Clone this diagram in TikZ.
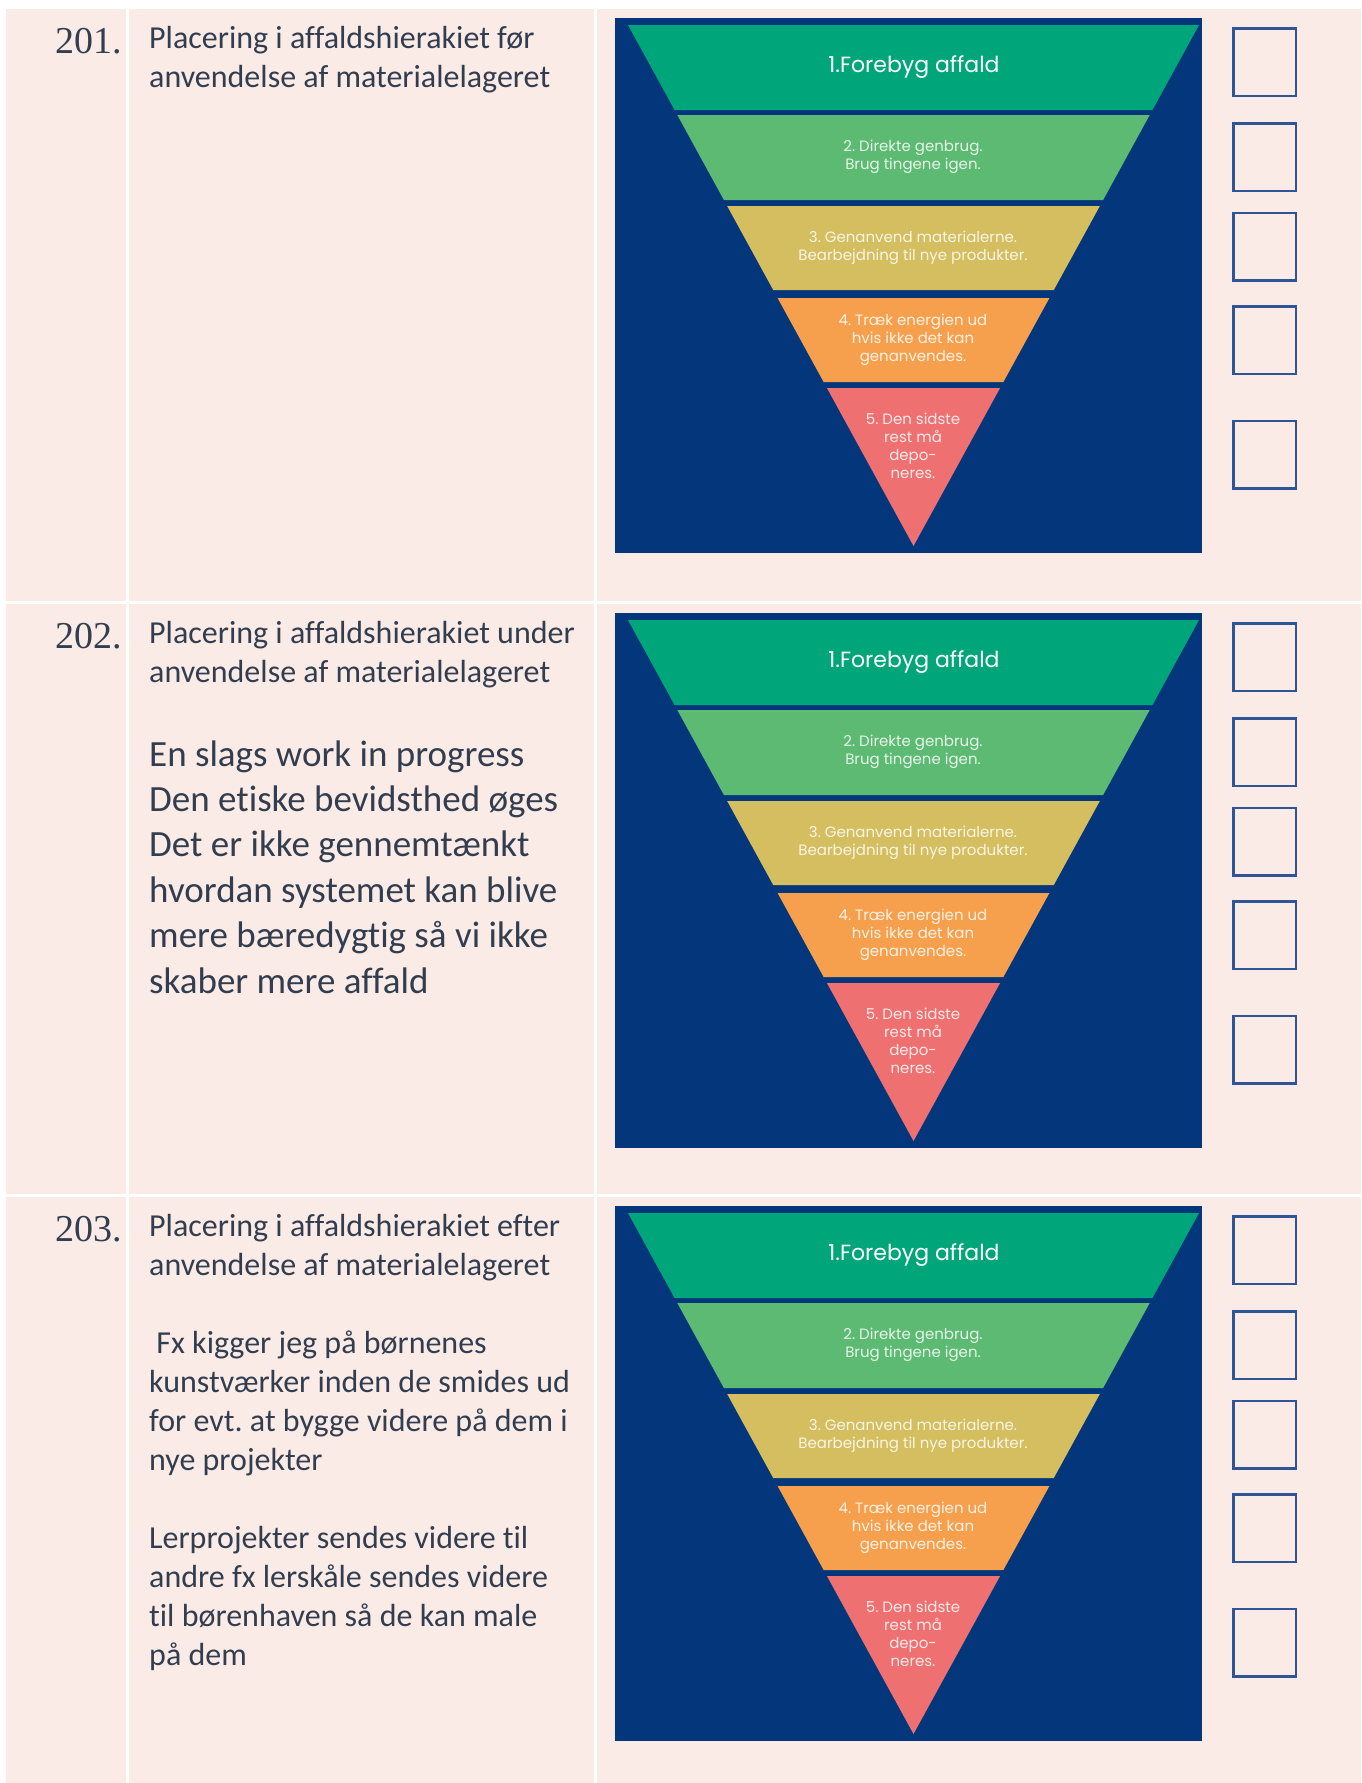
\documentclass[tikz,border=0pt]{standalone}
\usepackage{fontspec}
\setmainfont[Ligatures=NoCommon]{Carlito}
\newfontfamily\numfont{Liberation Serif}
\newfontfamily\pyrfont{Poppins}
\usepackage{xcolor}
\definecolor{cellpink}{RGB}{251,235,231}
\definecolor{bodytext}{RGB}{50,62,79}
\definecolor{navy}{RGB}{3,54,122}
\definecolor{lvlone}{RGB}{0,166,122}
\definecolor{lvltwo}{RGB}{92,186,114}
\definecolor{lvlthree}{RGB}{212,190,95}
\definecolor{lvlfour}{RGB}{246,160,77}
\definecolor{lvlfive}{RGB}{238,112,112}
\definecolor{boxblue}{RGB}{47,85,151}
\frenchspacing
% one waste hierarchy picture plus its five tick boxes; #1 = row tag, #2 = top of picture
\newcommand{\wastepyramid}[2]{%
\fill[navy] (615,#2) rectangle (1202,#2+535);
\foreach \tp/\bt/\col in {7/92/lvlone,97/182/lvltwo,188/272/lvlthree,280/364/lvlfour,370/528/lvlfive}
  \fill[\col] ({913.5-0.548*(528-\tp)},{#2+\tp}) -- ({913.5+0.548*(528-\tp)},{#2+\tp})
    -- ({913.5+0.548*(528-\bt)},{#2+\bt}) -- ({913.5-0.548*(528-\bt)},{#2+\bt}) -- cycle;
\node[lvltext,text opacity=1,font=\pyrfont\fontsize{22}{26}\selectfont] (forebyg#1) at (914,#2+49) {1.Forebyg affald};
\node[lvltext] (genbrug#1) at (913,#2+139) {2. Direkte genbrug.\\Brug tingene igen.};
\node[lvltext] (genanvend#1) at (913,#2+230) {3. Genanvend materialerne.\\Bearbejdning til nye produkter.};
\node[lvltext] (energi#1) at (913,#2+322) {4. Træk energien ud\\hvis ikke det kan\\genanvendes.};
\node[lvltext] (depot#1) at (913,#2+428) {5. Den sidste\\rest må\\depo-\\neres.};
\foreach \i/\cy in {1/44,2/139,3/228.5,4/322,5/436.5}
  \node[checkbox] (chk#1-\i) at (1264.5,#2+\cy) {};
}
\begin{document}
\begin{tikzpicture}[x=1pt,y=-1pt,
  cell/.style={fill=cellpink},
  numlabel/.style={anchor=base east,inner sep=0pt,text=bodytext,font=\numfont\fontsize{38}{44}\selectfont},
  headtext/.style={anchor=base west,inner sep=0pt,align=left,text=bodytext,font=\fontsize{32}{39}\selectfont},
  bigtext/.style={headtext,font=\fontsize{37}{45.4}\selectfont},
  lvltext/.style={text=white,text opacity=0.85,align=center,inner sep=0pt,font=\pyrfont\fontsize{15}{18}\selectfont},
  checkbox/.style={draw=boxblue,line width=2.5pt,minimum width=62.5pt,minimum height=67.5pt,inner sep=0pt}]
\fill[white] (0,0) rectangle (1361,1783);
\useasboundingbox (0,0) rectangle (1361,1783);
% table cells
\foreach \ya/\yb in {9/601,604/1194,1197/1783}
  \foreach \xa/\xb in {6/126,129/594,597/1361}
    \fill[cell] (\xa,\ya) rectangle (\xb,\yb);
\wastepyramid{1}{18}
\wastepyramid{2}{613}
\wastepyramid{3}{1206}
% row 201 (base = baseline of the last line)
\node[numlabel] (num201) at (122,53) {201.};
\node[headtext] (head201) at (149,87) {Placering i affaldshierakiet før\\anvendelse af materialelageret};
% row 202
\node[numlabel] (num202) at (122,648) {202.};
\node[headtext] (head202) at (149,682) {Placering i affaldshierakiet under\\anvendelse af materialelageret};
\node[bigtext] (note202) at (149,993) {En slags work in progress\\Den etiske bevidsthed øges\\Det er ikke gennemtænkt\\hvordan systemet kan blive\\mere bæredygtig så vi ikke\\skaber mere affald};
% row 203
\node[numlabel] (num203) at (122,1241) {203.};
\node[headtext] (head203) at (149,1275) {Placering i affaldshierakiet efter\\anvendelse af materialelageret};
\node[headtext] (note203) at (149,1470) {\ Fx kigger jeg på børnenes\\kunstværker inden de smides ud\\for evt. at bygge videre på dem i\\nye projekter};
\node[headtext] (note203b) at (149,1665) {Lerprojekter sendes videre til\\andre fx lerskåle sendes videre\\til børenhaven så de kan male\\på dem};
\end{tikzpicture}
\end{document}
